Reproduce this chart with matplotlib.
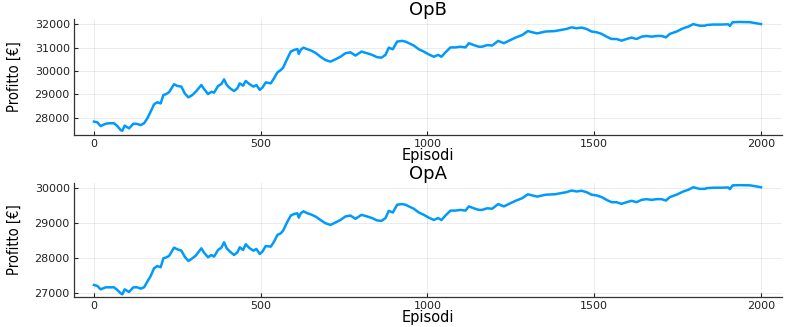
import matplotlib
matplotlib.use("Agg")
import matplotlib.pyplot as plt
import numpy as np

# episodes
episodi = [0, 10, 20, 35, 45, 60, 70, 80, 85, 92, 105, 118, 130, 140, 150, 160, 170, 180, 190, 200,
           208, 215, 225, 240, 250, 262, 272, 283, 295, 305, 322, 330, 342, 352, 360, 372, 382, 390, 398, 408,
           420, 430, 437, 447, 455, 467, 478, 487, 497, 505, 515, 530, 540, 550, 560, 567, 580, 590, 600, 610,
           614, 620, 628, 640, 652, 665, 679, 694, 709, 724, 739, 754, 769, 784, 802, 819, 834, 849, 862, 874,
           884, 896, 909, 924, 934, 944, 959, 974, 989, 1004, 1019, 1032, 1042, 1054, 1069, 1084, 1099, 1114, 1124, 1139,
           1154, 1164, 1179, 1194, 1212, 1229, 1249, 1264, 1284, 1301, 1314, 1329, 1354, 1382, 1402, 1417, 1432, 1447, 1462, 1477,
           1492, 1507, 1522, 1537, 1552, 1567, 1582, 1597, 1612, 1627, 1642, 1657, 1672, 1687, 1702, 1715, 1727, 1747, 1767, 1782,
           1797, 1807, 1817, 1832, 1837, 1857, 1882, 1902, 1907, 1915, 1937, 1967, 2000]

profitto_opb = [27830, 27800, 27640, 27740, 27760, 27760, 27640, 27470, 27440, 27660, 27540, 27740, 27730, 27680, 27760, 27970, 28260, 28570, 28660, 28610,
                28970, 29000, 29090, 29430, 29360, 29330, 29040, 28870, 28970, 29110, 29400, 29230, 29010, 29110, 29070, 29360, 29440, 29640, 29400, 29260,
                29140, 29260, 29470, 29370, 29570, 29430, 29330, 29400, 29190, 29290, 29510, 29470, 29690, 29940, 30040, 30140, 30540, 30830, 30900, 30940,
                30730, 30910, 31000, 30930, 30870, 30770, 30610, 30470, 30400, 30500, 30610, 30760, 30800, 30660, 30830, 30760, 30690, 30590, 30570, 30690,
                31000, 30930, 31260, 31290, 31260, 31190, 31090, 30930, 30830, 30710, 30610, 30690, 30610, 30800, 31010, 31010, 31040, 31010, 31190, 31110,
                31040, 31040, 31110, 31090, 31290, 31190, 31330, 31430, 31540, 31710, 31660, 31610, 31690, 31710, 31760, 31800, 31870, 31830, 31860, 31800,
                31690, 31660, 31590, 31470, 31370, 31370, 31300, 31370, 31430, 31370, 31470, 31500, 31470, 31500, 31500, 31440, 31590, 31690, 31830, 31900,
                32010, 31970, 31940, 31940, 31970, 31990, 31990, 32000, 31930, 32090, 32100, 32090, 32010]

profitto_opa = [27238, 27210, 27114, 27171, 27171, 27171, 27095, 27000, 26971, 27114, 27038, 27171, 27171, 27133, 27171, 27333, 27495, 27714, 27781, 27743,
                28000, 28019, 28067, 28305, 28257, 28219, 28048, 27924, 28000, 28076, 28286, 28162, 28029, 28095, 28048, 28238, 28305, 28457, 28286, 28190,
                28095, 28171, 28314, 28238, 28400, 28286, 28219, 28267, 28124, 28190, 28352, 28333, 28476, 28667, 28714, 28790, 29048, 29219, 29267, 29286,
                29162, 29286, 29343, 29286, 29248, 29190, 29095, 29002, 28955, 29022, 29095, 29196, 29222, 29129, 29242, 29196, 29149, 29082, 29069, 29149,
                29356, 29309, 29530, 29550, 29530, 29483, 29416, 29309, 29242, 29162, 29095, 29149, 29095, 29222, 29363, 29363, 29383, 29363, 29483, 29429,
                29383, 29383, 29429, 29416, 29550, 29483, 29576, 29643, 29717, 29830, 29797, 29763, 29817, 29830, 29864, 29890, 29937, 29910, 29930, 29890,
                29817, 29797, 29750, 29670, 29603, 29603, 29556, 29603, 29643, 29603, 29670, 29690, 29670, 29690, 29690, 29650, 29750, 29817, 29910, 29957,
                30031, 30004, 29984, 29984, 30004, 30017, 30017, 30024, 29977, 30084, 30090, 30084, 30031]

titoli = ["OpB", "OpA"]
yticks_opb = [28000, 29000, 30000, 31000, 32000]
yticks_opa = [27000, 28000, 29000, 30000]
xticks = [0, 500, 1000, 1500, 2000]

fig = plt.figure(figsize=(7.93, 3.27), dpi=100)
ax_b = fig.add_axes([0.0933, 0.5872, 0.8928, 0.3547])
ax_a = fig.add_axes([0.0933, 0.0917, 0.8928, 0.3486])

blu = "#009AFA"

for ax, y, titolo, yt, ylim in [
    (ax_b, profitto_opb, titoli[0], yticks_opb, (27258, 32227)),
    (ax_a, profitto_opa, titoli[1], yticks_opa, (26894, 30151)),
]:
    ax.plot(episodi, y, color=blu, lw=1.8)
    ax.set_xlim(-60, 2063)
    ax.set_ylim(*ylim)
    ax.set_xticks(xticks)
    ax.set_yticks(yt)
    ax.grid(True, color="black", alpha=0.08, lw=0.7)
    ax.spines["top"].set_visible(False)
    ax.spines["right"].set_visible(False)
    for s in ("left", "bottom"):
        ax.spines[s].set_color("#333333")
        ax.spines[s].set_linewidth(0.9)
    ax.tick_params(direction="in", length=3, width=0.8, labelsize=8, colors="#222222", pad=3)
    ax.set_title(titolo, fontsize=13, pad=1)
    ax.set_xlabel("Episodi", fontsize=10.5, labelpad=-1)
    ax.set_ylabel("Profitto [€]", fontsize=10.5, family="DejaVu Sans", fontstretch="condensed", labelpad=9)

fig.savefig("out.png", dpi=100)
